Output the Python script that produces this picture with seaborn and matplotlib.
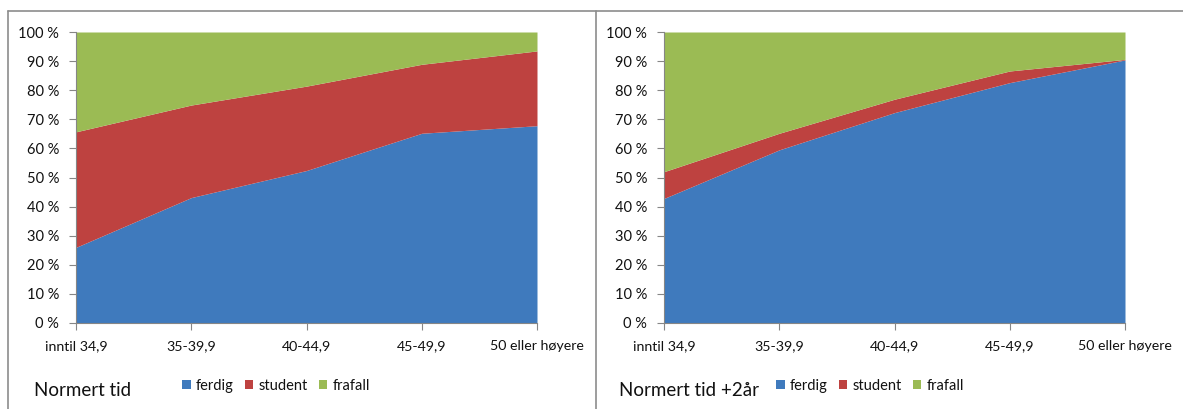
import matplotlib
matplotlib.use("Agg")
import matplotlib.pyplot as plt
from matplotlib.patches import Patch
from matplotlib.lines import Line2D
import seaborn as sns
import numpy as np

# Completion status by admission score group, share of students (%)
groups = ["inntil 34,9", "35-39,9", "40-44,9", "45-49,9", "50 eller høyere"]
series_names = ["ferdig", "student", "frafall"]

normert_ferdig = [26.0, 43.1, 52.4, 65.2, 67.8]
normert_student = [39.7, 31.8, 29.0, 23.7, 25.7]
normert_frafall = [34.3, 25.1, 18.6, 11.1, 6.5]

pluss2_ferdig = [42.8, 59.5, 72.3, 82.6, 90.4]
pluss2_student = [9.2, 5.7, 4.6, 4.0, 0.2]
pluss2_frafall = [48.0, 34.8, 23.1, 13.4, 9.4]

panel_titles = ["Normert tid", "Normert tid +2år"]
y_ticks = [0, 10, 20, 30, 40, 50, 60, 70, 80, 90, 100]

sns.set_theme(style="white")
plt.rcParams["font.family"] = ["Lato", "DejaVu Sans"]

colors = sns.color_palette(["#3F7ABD", "#BE4240", "#9BBB54"])
axis_grey = "#868686"
text_col = "#111111"

W, H = 1183, 409
fig = plt.figure(figsize=(W / 100, H / 100), dpi=100)
fig.patch.set_facecolor("white")


def px_axes(x0, y0, x1, y1):
    return fig.add_axes([x0 / W, 1 - y1 / H, (x1 - x0) / W, (y1 - y0) / H])


panels = [
    (normert_ferdig, normert_student, normert_frafall),
    (pluss2_ferdig, pluss2_student, pluss2_frafall),
]
plot_boxes = [(76, 32, 537, 323), (664, 32, 1125, 323)]
title_pos = [(34, 390), (619, 390)]
legend_pos = [(182, 386), (776, 386)]

x = np.arange(len(groups))
for (vals, box, tpos, lpos, title) in zip(panels, plot_boxes, title_pos, legend_pos, panel_titles):
    ax = px_axes(*box)
    ax.stackplot(x, *vals, colors=colors, linewidth=0)
    ax.set_xlim(0, len(groups) - 1)
    ax.set_ylim(0, 100)
    ax.set_xticks(x)
    ax.set_xticklabels(groups, fontsize=10.2, color=text_col)
    ax.set_yticks(y_ticks)
    ax.set_yticklabels([f"{v} %" for v in y_ticks], fontsize=10.5, color=text_col)
    ax.tick_params(axis="both", which="major", length=5, width=0.8, color=axis_grey,
                   left=True, bottom=True)
    ax.tick_params(axis="y", pad=7)
    ax.tick_params(axis="x", pad=7)
    for side in ("top", "right"):
        ax.spines[side].set_visible(False)
    for side in ("left", "bottom"):
        ax.spines[side].set_color(axis_grey)
        ax.spines[side].set_linewidth(0.8)
    ax.set_facecolor("white")

    fig.text(tpos[0] / W, 1 - tpos[1] / H, title, fontsize=13.5, color=text_col,
             ha="left", va="center")

    handles = [Patch(facecolor=c, edgecolor="none") for c in colors]
    fig.legend(handles, series_names, loc="center left",
               bbox_to_anchor=(lpos[0] / W, 1 - lpos[1] / H), ncol=3, frameon=False,
               fontsize=10.5, handlelength=0.6, handleheight=0.6, handletextpad=0.35,
               columnspacing=0.75, borderpad=0, borderaxespad=0, labelcolor=text_col)

# Panel frames
frame_col = "#8c8c8c"
fig.add_artist(Line2D([8 / W, 1], [1 - 11 / H, 1 - 11 / H], color=frame_col, lw=1.2))
fig.add_artist(Line2D([8 / W, 8 / W], [0, 1 - 11 / H], color=frame_col, lw=1.2))
fig.add_artist(Line2D([596 / W, 596 / W], [0, 1 - 11 / H], color=frame_col, lw=1.2))

fig.savefig("out.png", dpi=100)
